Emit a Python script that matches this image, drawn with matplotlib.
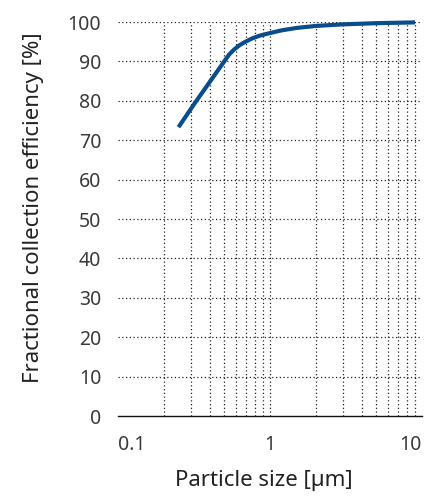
import matplotlib
matplotlib.use("Agg")
import matplotlib.pyplot as plt

# particle size [um] vs fractional collection efficiency [%]
size_um = [0.25, 0.32, 0.40, 0.50, 0.54, 0.58, 0.63, 0.69, 0.76, 0.85, 1.0,
           1.2, 1.5, 2.0, 3.0, 5.0, 9.0]
efficiency = [73.3, 79.4, 84.7, 90.0, 91.8, 93.0, 94.1, 95.0, 95.8, 96.5, 97.2,
              97.9, 98.5, 99.0, 99.4, 99.7, 99.9]

y_ticks = list(range(0, 101, 10))
x_ticks = [0.1, 1, 10]
x_tick_labels = ["0.1", "1", "10"]
x_grid = [m * d for d in (0.1, 1) for m in range(2, 10)] + [1]

plt.rcParams["font.family"] = ["Noto Sans", "DejaVu Sans"]

fig = plt.figure(figsize=(4.31, 4.97), dpi=100)
ax = fig.add_axes([118 / 431, 1 - 416 / 497, (422 - 118) / 431, (416 - 22) / 497])

ax.set_xscale("log")
ax.set_xlim(0.1, 10)
ax.set_ylim(0, 100)

for v in y_ticks[1:]:
    ax.axhline(v, color="#222222", lw=0.9, ls=(0, (1, 2)), zorder=1)
for v in x_grid:
    ax.axvline(v, color="#222222", lw=0.9, ls=(0, (1, 2)), zorder=1)

ax.plot(size_um, efficiency, color="#0a4d8c", lw=3.0, solid_capstyle="butt",
        solid_joinstyle="round", clip_on=False, zorder=3)

for s in ("top", "right", "left"):
    ax.spines[s].set_visible(False)
ax.spines["bottom"].set_color("#111111")
ax.spines["bottom"].set_linewidth(1.0)

ax.set_yticks(y_ticks)
ax.set_xticks(x_ticks)
ax.set_xticklabels(x_tick_labels)
ax.minorticks_off()
ax.tick_params(axis="both", length=0, labelsize=14, colors="#3a3a3a")
ax.tick_params(axis="y", pad=12)
ax.tick_params(axis="x", pad=14)
xl = ax.get_xticklabels()
xl[0].set_horizontalalignment("left")
xl[-1].set_horizontalalignment("right")

ax.set_xlabel("Particle size [µm]", fontsize=16, color="#222222")
ax.set_ylabel("Fractional collection efficiency [%]", fontsize=16, color="#222222")
# label positions as in the reference (slightly off-centre)
ax.xaxis.set_label_coords(0.48, -0.138)
ax.yaxis.set_label_coords(-0.245, 0.528)

fig.savefig("out.png", dpi=100)
